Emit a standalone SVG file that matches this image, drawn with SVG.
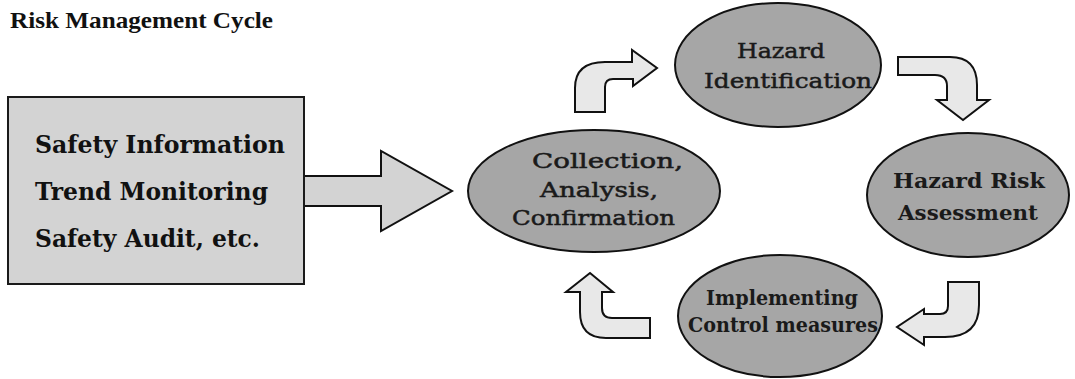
<svg xmlns="http://www.w3.org/2000/svg" width="1075" height="379" viewBox="0 0 1075 379">
<style>
.bg{fill:#ffffff}
.title{font-family:"Liberation Serif","Times New Roman",serif;font-weight:bold;font-size:23px;fill:#111}
.box{fill:#d3d3d3;stroke:#1a1a1a;stroke-width:2}
.node{fill:#a6a6a6;stroke:#111;stroke-width:2}
.arrow{fill:#e8e8e8;stroke:#111;stroke-width:2;stroke-linejoin:miter}
.big{fill:#d3d3d3;stroke:#111;stroke-width:2}
.bt{font-family:"DejaVu Serif","Liberation Serif",serif;font-size:24px;font-weight:bold;fill:#111}
.et{font-family:"DejaVu Serif","Liberation Serif",serif;font-size:21px;fill:#1a1a1a;stroke:#1a1a1a;stroke-width:0.5}
.eb{font-family:"DejaVu Serif","Liberation Serif",serif;font-size:20px;font-weight:bold;fill:#1a1a1a}
</style>
<rect class="bg" x="0" y="0" width="1075" height="379"/>
<text class="title" x="10" y="28" textLength="263" lengthAdjust="spacingAndGlyphs">Risk Management Cycle</text>

<g id="connectors">
  <path class="big" d="M 304 176 L 381 176 L 381 151 L 452 191 L 381 231 L 381 206 L 304 206"/>
  <path class="arrow" d="M 575 112 L 575 88 Q 575 62 605 62 L 632 62 L 632 50 L 657 68 L 633 86 L 633 79 L 613 79 Q 605 79 605 87 L 605 112 Z"/>
  <path class="arrow" d="M 898 57 L 950 57 Q 977 57 977 85 L 977 100 L 989 100 L 963 120 L 937 100 L 947 100 L 947 86 Q 947 75 935 75 L 898 75 Z"/>
  <path class="arrow" d="M 948 282 L 979 282 L 979 305 Q 979 337 945 337 L 924 337 L 924 345 L 897 327 L 924 309 L 924 314 L 940 314 Q 948 314 948 306 Z"/>
  <path class="arrow" d="M 590 273 L 613 292 L 602 292 L 602 308 Q 602 318 612 318 L 650 318 L 650 338 L 606 338 Q 580 338 580 312 L 580 292 L 566 292 Z"/>
</g>

<g id="sources">
  <rect class="box" x="8" y="97" width="296" height="187"/>
  <text class="bt" x="35" y="153" textLength="250" lengthAdjust="spacingAndGlyphs">Safety Information</text>
  <text class="bt" x="35" y="200" textLength="233" lengthAdjust="spacingAndGlyphs">Trend Monitoring</text>
  <text class="bt" x="35" y="247" textLength="225" lengthAdjust="spacingAndGlyphs">Safety Audit, etc.</text>
</g>

<g id="collection">
  <ellipse class="node" cx="594" cy="191" rx="126" ry="61"/>
  <text class="et" x="532" y="168" textLength="151" lengthAdjust="spacingAndGlyphs">Collection,</text>
  <text class="et" x="540" y="197" textLength="118" lengthAdjust="spacingAndGlyphs">Analysis,</text>
  <text class="et" x="512" y="225" textLength="163" lengthAdjust="spacingAndGlyphs">Confirmation</text>
</g>

<g id="hazard-identification">
  <ellipse class="node" cx="778" cy="65" rx="103" ry="62"/>
  <text class="et" x="737" y="58" textLength="88" lengthAdjust="spacingAndGlyphs">Hazard</text>
  <text class="et" x="704" y="88" textLength="168" lengthAdjust="spacingAndGlyphs">Identification</text>
</g>

<g id="hazard-risk-assessment">
  <ellipse class="node" cx="968" cy="195" rx="101" ry="62"/>
  <text class="eb" x="893" y="188" textLength="152" lengthAdjust="spacingAndGlyphs">Hazard Risk</text>
  <text class="eb" x="898" y="220" textLength="140" lengthAdjust="spacingAndGlyphs">Assessment</text>
</g>

<g id="implementing-control">
  <ellipse class="node" cx="780" cy="316" rx="102" ry="61"/>
  <text class="eb" x="706" y="305" textLength="152" lengthAdjust="spacingAndGlyphs">Implementing</text>
  <text class="eb" x="688" y="332" textLength="190" lengthAdjust="spacingAndGlyphs">Control measures</text>
</g>
</svg>
